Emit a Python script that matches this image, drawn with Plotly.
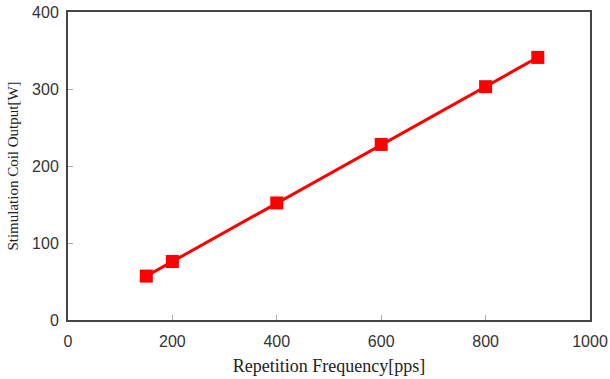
import plotly.graph_objects as go

freq = [150, 200, 400, 600, 800, 900]
output_w = [57, 76, 152, 228, 303, 341]

fig = go.Figure()
fig.add_trace(go.Scatter(
    x=freq, y=output_w, mode="lines+markers",
    line=dict(color="#ff0000", width=3),
    marker=dict(symbol="square", size=13, color="#ff0000"),
    showlegend=False,
))

axis_common = dict(
    showline=True, linecolor="#444", linewidth=2, mirror=True,
    showgrid=False, zeroline=False, automargin=False,
    ticks="inside", ticklen=5, tickcolor="#aaa", tickwidth=1,
    tickfont=dict(family="Liberation Sans, Arial, sans-serif", size=16, color="#333"),
)

fig.update_layout(
    width=610, height=379,
    margin=dict(l=68, r=20, t=12, b=59),
    plot_bgcolor="white", paper_bgcolor="white",
    xaxis=dict(range=[0, 1000], tickvals=[0, 200, 400, 600, 800, 1000],
               ticklabelstandoff=6,
               title=dict(text="Repetition Frequency[pps]", standoff=10,
                          font=dict(family="Liberation Serif, Times New Roman, serif", size=18, color="#222")),
               **axis_common),
    yaxis=dict(range=[0, 400], tickvals=[0, 100, 200, 300, 400],
               ticklabelstandoff=4,
               title=dict(text="Stimulation Coil Output[W]", standoff=10,
                          font=dict(family="Liberation Serif, Times New Roman, serif", size=15, color="#222")),
               **axis_common),
)

fig.write_html("out.html")
